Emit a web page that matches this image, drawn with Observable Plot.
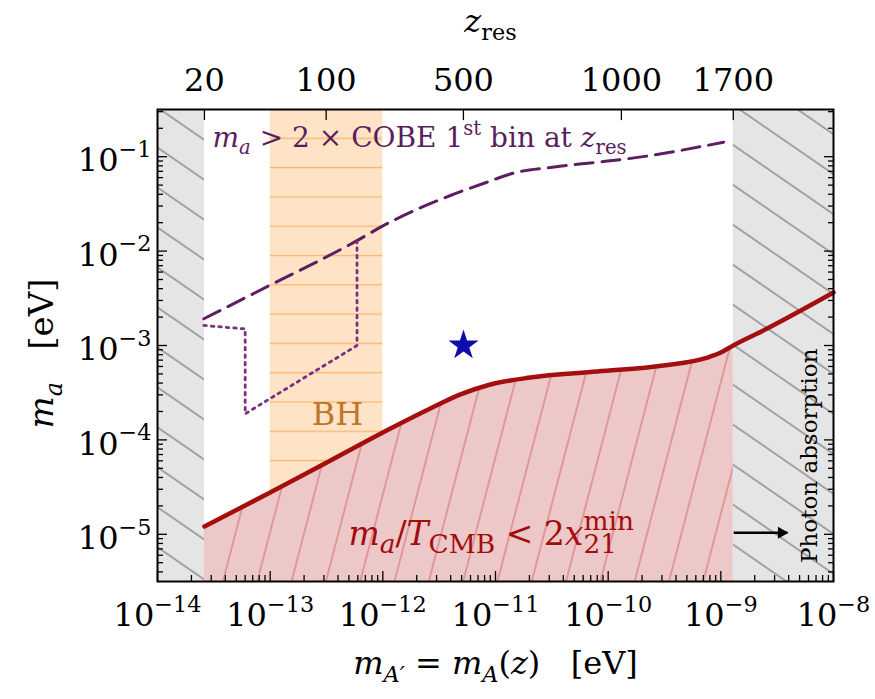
<!DOCTYPE html>
<html><head><meta charset="utf-8">
<script src="https://cdn.jsdelivr.net/npm/d3@7"></script>
<script src="https://cdn.jsdelivr.net/npm/@observablehq/plot@0.6"></script>
<style>body{margin:0;background:#fff} svg{display:block}</style>
</head><body><div id="chart"></div>
<script>
// ---------------- data ----------------
// red solid bound: m_a/T_CMB < 2 x21^min
const redMassA = [2.61e-14, 1.0e-13, 3.43e-13, 1.17e-12, 2.64e-12, 4.89e-12, 9.0e-12, 2.04e-11, 8.0e-11, 3.1e-10, 7.6e-10, 1.0e-9, 1.29e-9, 2.38e-9, 1e-8];
const redMa    = [1.21e-5, 2.77e-5, 6.05e-5, 1.32e-4, 2.15e-4, 3.03e-4, 3.86e-4, 4.58e-4, 5.3e-4, 6.14e-4, 7.46e-4, 8.43e-4, 1.0e-3, 1.44e-3, 3.64e-3];
// dashed COBE line
const cobeMassA = [2.58e-14, 9.4e-14, 5.9e-13, 1.02e-12, 3.98e-12, 7.8e-12, 1.56e-11, 3.08e-11, 8.0e-11, 1.48e-10, 1.06e-9];
const cobeMa    = [1.92e-3, 4.2e-3, 1.29e-2, 1.87e-2, 3.88e-2, 5.2e-2, 6.86e-2, 7.7e-2, 8.75e-2, 9.5e-2, 0.1425];
// dotted contour
const dotMassA = [2.58e-14, 6.0e-14, 6.0e-14, 5.9e-13, 5.9e-13];
const dotMa    = [1.63e-3, 1.5e-3, 1.89e-4, 1.0e-3, 1.25e-2];
// star
const starMassA = [5.2e-12];
const starMa = [1e-3];
// excluded bands
const grayX1 = [1e-14, 1.29e-9];
const grayX2 = [2.61e-14, 1e-8];
const bhX1 = [1e-13];
const bhX2 = [1e-12];
const redFillMax = 1.29e-9;
// axes
const xDomain = [1e-14, 1e-8];
const yDomain = [Math.pow(10, -5.5), Math.pow(10, -0.5)];
const xTicks = [1e-14, 1e-13, 1e-12, 1e-11, 1e-10, 1e-9, 1e-8];
const yTicks = [1e-5, 1e-4, 1e-3, 1e-2, 1e-1];
const zresLabels = ["20", "100", "500", "1000", "1700"];
const zresMassA  = [2.61e-14, 3.14e-13, 5.19e-12, 1.31e-10, 1.29e-9];
// annotation anchors (data units)
const cobeLabelAt = [3.08e-14, 0.157];
const bhLabelAt = [3.95e-13, 1.86e-4];
const redLabelAt = [4.95e-13, 1.0e-5];
const photonLabelAt = [6.2e-9, 6.8e-5];
const arrowFrom = [1.3e-9, 1.04e-5];
const arrowTo = [3.9e-9, 1.04e-5];

// ---------------- tables ----------------
const red = redMassA.map((x, i) => ({x, m: redMa[i]}));
const redFill = red.filter(d => d.x <= redFillMax);
const cobe = cobeMassA.map((x, i) => ({x, m: cobeMa[i]}));
const dotted = dotMassA.map((x, i) => ({x, m: dotMa[i]}));
const star = starMassA.map((x, i) => ({x, m: starMa[i]}));
const gray = grayX1.map((x1, i) => ({x1, x2: grayX2[i]}));
const bh = bhX1.map((x1, i) => ({x1, x2: bhX2[i]}));
const zres = zresMassA.map((x, i) => ({x, label: zresLabels[i]}));

const xMinor = [];
for (let e = -14; e < -8; e++) for (let k = 2; k <= 9; k++) xMinor.push(k * Math.pow(10, e));
const yMinor = [];
for (let e = -6; e <= -1; e++) for (let k = 2; k <= 9; k++) {
  const v = k * Math.pow(10, e);
  if (v > yDomain[0] && v < yDomain[1]) yMinor.push(v);
}

const serif = "DejaVu Serif";
const pow = d => "10^" + Math.round(Math.log10(d));
const blank = () => "";
const tk = {tickPadding: 0, tickFormat: blank, strokeWidth: 1.3, label: null};
const tickShape = {draw(context, l) { context.moveTo(0, 0); context.lineTo(0, -l); }};

const svg = Plot.plot({
  width: 875, height: 699,
  marginTop: 109, marginBottom: 118, marginLeft: 157, marginRight: 42,
  x: {type: "log", domain: xDomain, axis: null, label: null},
  y: {type: "log", domain: yDomain, axis: null, label: null},
  style: {fontFamily: serif, background: "white", color: "black"},
  marks: [
    Plot.rect(gray, {x1: "x1", x2: "x2", y1: yDomain[0], y2: yDomain[1], fill: "url(#grayHatch)"}),
    Plot.rect(bh, {x1: "x1", x2: "x2", y1: yDomain[0], y2: yDomain[1], fill: "url(#bhLines)"}),
    Plot.areaY(redFill, {x: "x", y1: yDomain[0], y2: "m", fill: "url(#redHatch)", curve: "monotone-x"}),
    Plot.line(red, {x: "x", y: "m", stroke: "#a50e0e", strokeWidth: 4.5, curve: "monotone-x"}),
    Plot.line(cobe, {x: "x", y: "m", stroke: "#5c1e60", strokeWidth: 3, strokeDasharray: "18,9", curve: "monotone-x"}),
    Plot.line(dotted, {x: "x", y: "m", stroke: "#7c2f80", strokeWidth: 2.8, strokeDasharray: "2.5,5"}),
    Plot.dot(star, {x: "x", y: "m", symbol: "star", r: 9.5, fill: "#0d0dab", stroke: "none"}),
    // annotations
    Plot.text(["COBETXT"], {x: () => cobeLabelAt[0], y: () => cobeLabelAt[1], textAnchor: "start", lineAnchor: "middle", fontSize: 28, fill: "#5a1e5e"}),
    Plot.text(["BH"], {x: () => bhLabelAt[0], y: () => bhLabelAt[1], lineAnchor: "middle", fontSize: 32, fill: "#bf7628"}),
    Plot.text(["REDTXT"], {x: () => redLabelAt[0], y: () => redLabelAt[1], textAnchor: "start", lineAnchor: "middle", fontSize: 33, fill: "#a30c0c"}),
    Plot.text(["Photon absorption"], {x: () => photonLabelAt[0], y: () => photonLabelAt[1], rotate: -90, lineAnchor: "middle", fontSize: 23, fill: "black"}),
    Plot.link([0], {x1: () => arrowFrom[0], y1: () => arrowFrom[1], x2: () => arrowTo[0], y2: () => arrowTo[1], stroke: "black", strokeWidth: 2.5}),
    Plot.dot([0], {x: () => arrowTo[0], y: () => arrowTo[1], symbol: "triangle", r: 4.5, rotate: 90, dx: -6, fill: "black", stroke: "none"}),
    // axis titles
    Plot.text(["YTITLE"], {frameAnchor: "left", textAnchor: "middle", lineAnchor: "middle", dx: -115, dy: 8, rotate: -90, fontSize: 34}),
    Plot.text(["XTITLE"], {frameAnchor: "bottom", textAnchor: "middle", lineAnchor: "middle", dy: 82, fontSize: 32}),
    Plot.text(["ZTITLE"], {frameAnchor: "top", textAnchor: "middle", lineAnchor: "middle", dx: -5, dy: -88, fontSize: 32}),
    // top (z_res) ticks and labels
    Plot.vector(zres, {x: "x", frameAnchor: "top", length: 10, rotate: 180, anchor: "start", shape: tickShape, stroke: "black", strokeWidth: 1.3}),
    Plot.text(zres, {x: "x", text: "label", frameAnchor: "top", textAnchor: "middle", lineAnchor: "bottom", dy: -19, fontSize: 32}),
    // ticks (inward)
    Plot.axisX(xTicks, {anchor: "bottom", tickSize: -10, ...tk}),
    Plot.axisX(xMinor, {anchor: "bottom", tickSize: -6, ...tk}),
    Plot.axisY(yTicks, {anchor: "left", tickSize: -10, ...tk}),
    Plot.axisY(yMinor, {anchor: "left", tickSize: -6, ...tk}),
    Plot.axisY(yTicks, {anchor: "right", tickSize: -10, ...tk}),
    Plot.axisY(yMinor, {anchor: "right", tickSize: -6, ...tk}),
    // tick labels
    Plot.axisX(xTicks, {anchor: "bottom", tickSize: 0, tickPadding: 22, tickFormat: pow, fontSize: 32, label: null}),
    Plot.axisY(yTicks, {anchor: "left", tickSize: 0, tickPadding: 6, dy: 4.5, tickFormat: pow, fontSize: 32, label: null}),
    Plot.frame({stroke: "black", strokeWidth: 2})
  ]
});

document.getElementById("chart").append(svg);

// ---------------- patterns ----------------
const NS = "http://www.w3.org/2000/svg";
const defs = d3.select(svg).insert("defs", ":first-child");
{
  const h = 32.9, ang = 34.6;
  const c = ((-297 % h) + h) % h;
  const p = defs.append("pattern").attr("id", "grayHatch").attr("patternUnits", "userSpaceOnUse")
    .attr("width", 40).attr("height", h).attr("patternTransform", `rotate(${ang})`);
  p.append("rect").attr("width", 40).attr("height", h).attr("fill", "#e5e5e5");
  p.append("line").attr("x1", 0).attr("x2", 40).attr("y1", c).attr("y2", c).attr("stroke", "#7a7a7a").attr("stroke-width", 1.2);
}
{
  const w = 33.2, ang = 14.6;
  const p = defs.append("pattern").attr("id", "redHatch").attr("patternUnits", "userSpaceOnUse")
    .attr("width", w).attr("height", 40).attr("patternTransform", `rotate(${ang})`);
  p.append("rect").attr("width", w).attr("height", 40).attr("fill", "#ecc8c9");
  p.append("line").attr("x1", 30.3).attr("x2", 30.3).attr("y1", 0).attr("y2", 40).attr("stroke", "#d4686b").attr("stroke-width", 1);
}
{
  const h = 29.3;
  const p = defs.append("pattern").attr("id", "bhLines").attr("patternUnits", "userSpaceOnUse")
    .attr("width", 10).attr("height", h);
  p.append("rect").attr("width", 10).attr("height", h).attr("fill", "#fee3c6");
  p.append("line").attr("x1", 0).attr("x2", 10).attr("y1", 21.1).attr("y2", 21.1).attr("stroke", "#fbb673").attr("stroke-width", 1.3);
}

// ---------------- rich text ----------------
function rich(el, segs, small = 0.7) {
  const base = parseFloat(getComputedStyle(el).fontSize);
  el.textContent = "";
  let shift = 0, prev = null;
  for (const [t, st = ""] of segs) {
    const ts = document.createElementNS(NS, "tspan");
    const isSub = st.includes("_"), isSup = st.includes("^");
    const target = isSub ? 0.25 * base : isSup ? -0.45 * base : 0;
    if (isSub || isSup) ts.setAttribute("font-size", (small * base) + "px");
    if (st.includes("i")) ts.setAttribute("font-style", "italic");
    if (target !== shift) { ts.setAttribute("dy", target - shift); shift = target; }
    if (st.includes("k") && prev) ts.setAttribute("dx", -prev.getComputedTextLength());
    ts.textContent = t;
    el.appendChild(ts);
    prev = ts;
  }
}
const richMap = {
  COBETXT: [[["m", "i"], ["a", "i_"], [" > 2 × COBE 1"], ["st", "^"], [" bin at "], ["z", "i"], ["res", "_"]], 0.7],
  REDTXT: [[["m", "i"], ["a", "i_"], ["/"], ["T", "i"], ["CMB", "_"], [" < 2"], ["x", "i"], ["min", "^"], ["21", "_k"]], 0.8],
  YTITLE: [[["m", "i"], ["a", "i_"], ["\u00a0\u00a0\u00a0[eV]"]], 0.7],
  XTITLE: [[["m", "i"], ["A\u2032", "i_"], [" = "], ["m", "i"], ["A", "i_"], ["("], ["z", "i"], [")"], ["\u00a0\u00a0\u00a0[eV]"]], 0.7],
  ZTITLE: [[["z", "i"], ["res", "_"]], 0.7]
};
svg.querySelectorAll("text").forEach(el => {
  const s = el.textContent;
  if (richMap[s]) rich(el, richMap[s][0], richMap[s][1]);
  else {
    const m = /^10\^(-?)(\d+)$/.exec(s);
    if (m) rich(el, [["10"], [(m[1] ? "\u2212" : "") + m[2], "^"]]);
  }
});
</script>
</body></html>
